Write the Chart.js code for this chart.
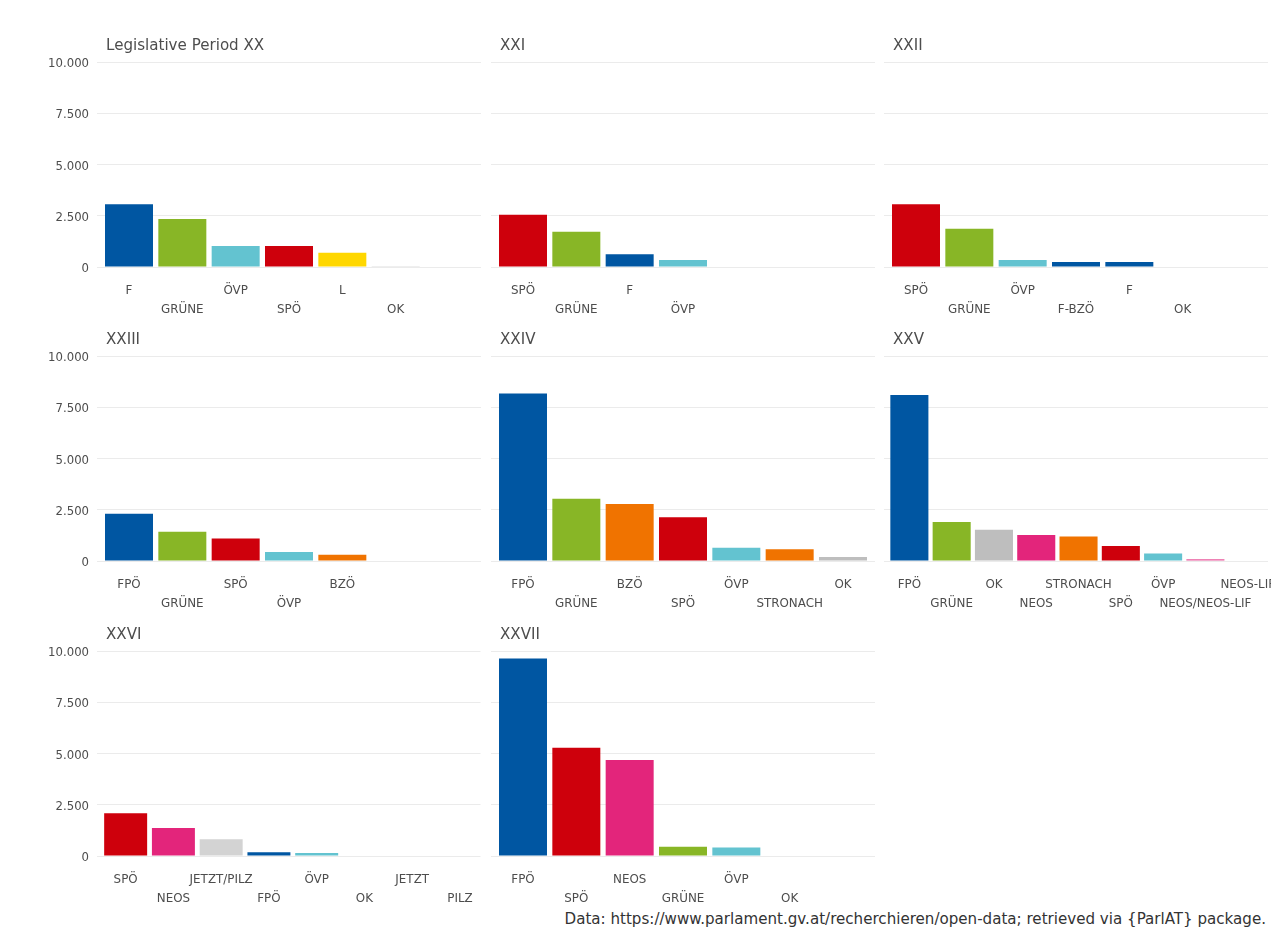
<!DOCTYPE html>
<html><head><meta charset="utf-8">
<script src="https://cdn.jsdelivr.net/npm/chart.js@4"></script>
<style>
html,body{margin:0;padding:0;background:#fff;overflow:hidden;width:1271px;height:927px;position:relative;}
canvas{position:absolute;}
#cap{position:absolute;right:5px;top:910px;font-family:"DejaVu Sans";font-size:15.1px;line-height:18px;color:#333;white-space:nowrap;}
</style></head><body>
<div id="cap">Data: https://www.parlament.gv.at/recherchieren/open-data; retrieved via {ParlAT} package.</div>
<script>
// ---- data ----
const periodTitles = ['Legislative Period XX','XXI','XXII','XXIII','XXIV','XXV','XXVI','XXVII'];

const partiesXX = ['F','GRÜNE','ÖVP','SPÖ','L','OK'];
const valuesXX  = [3060, 2340, 1025, 1020, 700, 40];

const partiesXXI = ['SPÖ','GRÜNE','F','ÖVP'];
const valuesXXI  = [2550, 1720, 620, 340];

const partiesXXII = ['SPÖ','GRÜNE','ÖVP','F-BZÖ','F','OK'];
const valuesXXII  = [3060, 1870, 340, 245, 245, 30];

const partiesXXIII = ['FPÖ','GRÜNE','SPÖ','ÖVP','BZÖ'];
const valuesXXIII  = [2300, 1430, 1100, 440, 310];

const partiesXXIV = ['FPÖ','GRÜNE','BZÖ','SPÖ','ÖVP','STRONACH','OK'];
const valuesXXIV  = [8170, 3040, 2780, 2140, 650, 570, 195];

const partiesXXV = ['FPÖ','GRÜNE','OK','NEOS','STRONACH','SPÖ','ÖVP','NEOS/NEOS-LIF','NEOS-LIF'];
const valuesXXV  = [8100, 1900, 1530, 1270, 1200, 730, 370, 85, 0];

const partiesXXVI = ['SPÖ','NEOS','JETZT/PILZ','FPÖ','ÖVP','OK','JETZT','PILZ'];
const valuesXXVI  = [2090, 1370, 820, 180, 150, 30, 0, 0];

const partiesXXVII = ['FPÖ','SPÖ','NEOS','GRÜNE','ÖVP','OK'];
const valuesXXVII  = [9640, 5280, 4680, 450, 420, 30];

const yTickValues = [0, 2500, 5000, 7500, 10000];

// ---- styles / layout ----
const partyColors = {
  'F':'#0056A2','FPÖ':'#0056A2','F-BZÖ':'#0056A2',
  'GRÜNE':'#88B626','ÖVP':'#63C3D0','SPÖ':'#CE000C','L':'#FFD700',
  'OK':'#BEBEBE','BZÖ':'#F07300','STRONACH':'#F07300',
  'NEOS':'#E3257B','NEOS/NEOS-LIF':'#E8589C','NEOS-LIF':'#E3257B',
  'JETZT/PILZ':'#D3D3D3','JETZT':'#D3D3D3','PILZ':'#D3D3D3'
};

const panelParties = [partiesXX, partiesXXI, partiesXXII, partiesXXIII, partiesXXIV, partiesXXV, partiesXXVI, partiesXXVII];
const panelValues  = [valuesXX, valuesXXI, valuesXXII, valuesXXIII, valuesXXIV, valuesXXV, valuesXXVI, valuesXXVII];
const panelXMax    = [6.6, 6.6, 6.6, 6.6, 6.6, 8.48, 7.43, 6.6];

const plotLefts = [97, 491, 884];
const plotTops = [62, 356, 651];
const plotW = 384, plotH = 205, yAxisW = 51, titleSpace = 30, xAxisH = 54;
const FONT = 'DejaVu Sans';

function fmt(v){ return String(v).replace(/\B(?=(\d{3})+(?!\d))/g, '.'); }

const titlePlugin = {
  id: 'ptitle',
  afterDraw(chart, args, opts) {
    const c = chart.ctx;
    c.save();
    c.font = '15.1px "' + FONT + '"';
    c.fillStyle = '#4d4d4d';
    c.textBaseline = 'middle';
    c.textAlign = 'left';
    c.fillText(opts.text, chart.chartArea.left + 9, chart.chartArea.top - 16);
    c.restore();
  }
};

periodTitles.forEach((title, k) => {
  const col = k % 3, row = Math.floor(k / 3);
  const parties = panelParties[k], values = panelValues[k];
  const padR = col === 2 ? 24 : 6;
  const cv = document.createElement('canvas');
  cv.width = yAxisW + plotW + padR;
  cv.height = titleSpace + plotH + xAxisH;
  cv.style.left = (plotLefts[col] - yAxisW) + 'px';
  cv.style.top = (plotTops[row] - titleSpace) + 'px';
  document.body.appendChild(cv);
  new Chart(cv.getContext('2d'), {
    type: 'bar',
    data: {
      datasets: [{
        data: values.map((v, i) => ({ x: i, y: v })),
        backgroundColor: parties.map(p => partyColors[p]),
        borderWidth: 0,
        categoryPercentage: 1,
        barPercentage: 0.9
      }]
    },
    options: {
      responsive: false,
      animation: false,
      layout: { autoPadding: false, padding: { top: titleSpace, right: padR, left: 0, bottom: 0 } },
      plugins: { legend: { display: false }, tooltip: { enabled: false }, ptitle: { text: title } },
      scales: {
        x: {
          type: 'linear',
          offset: false,
          min: -0.6,
          max: panelXMax[k],
          grid: { display: false, drawTicks: false, offset: false },
          border: { display: false },
          afterBuildTicks: s => { s.ticks = parties.map((_, i) => ({ value: i })); },
          afterFit: s => { s.height = xAxisH; },
          ticks: {
            autoSkip: false, maxRotation: 0, minRotation: 0, padding: 14,
            color: '#4d4d4d',
            font: { family: FONT, size: 11.9, lineHeight: '19px' },
            callback: (v) => { const i = Math.round(v); return i % 2 === 0 ? [parties[i], ''] : ['', parties[i]]; }
          }
        },
        y: {
          min: 0, max: 10000,
          afterBuildTicks: s => { s.ticks = yTickValues.map(v => ({ value: v })); },
          afterFit: s => { s.width = yAxisW; },
          grid: { color: '#ebebeb', lineWidth: 1, drawTicks: false },
          border: { display: false },
          ticks: {
            display: col === 0, padding: 8, color: '#4d4d4d', labelOffset: 2,
            font: { family: FONT, size: 11.7 },
            callback: v => fmt(v)
          }
        }
      }
    },
    plugins: [titlePlugin]
  });
});
</script>
</body></html>
